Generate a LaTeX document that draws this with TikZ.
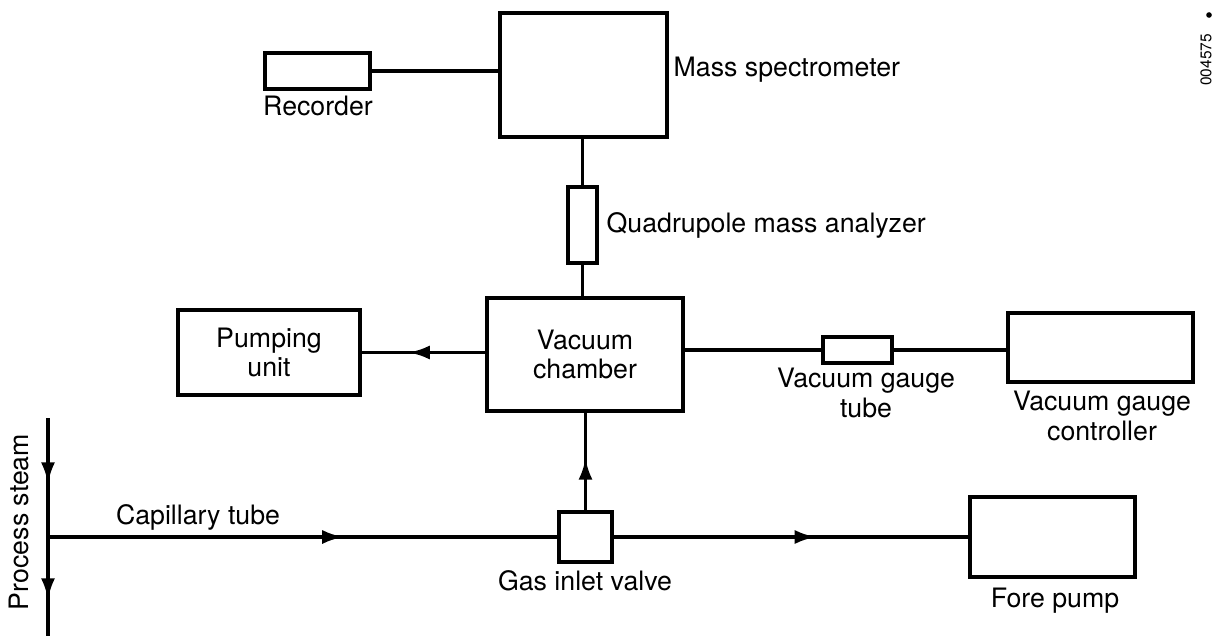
\documentclass[tikz,border=0pt]{standalone}
\usepackage{fontspec}
\setmainfont{TeX Gyre Heros}
\usetikzlibrary{arrows.meta, positioning, decorations.markings}

\begin{document}
\begin{tikzpicture}[
    x=0.025cm, y=-0.025cm,
    unit/.style={draw, line width=2.6pt, inner sep=0pt, align=center,
      font=\fontsize{19}{21}\selectfont},
    lbl/.style={align=center, inner sep=1pt, font=\fontsize{19}{21}\selectfont},
    pipe/.style={line width=2.4pt},
    flow/.style={line width=2.4pt, postaction={decorate},
      decoration={markings, mark=at position #1 with {\arrow{Latex[length=15pt, width=10pt]}}}}
]
\useasboundingbox (0,0) rectangle (1217,636);

% Units
\node[unit, minimum width=105*0.025cm, minimum height=36*0.025cm] (rec) at (317.5,71) {};
\node[unit, minimum width=167*0.025cm, minimum height=124*0.025cm] (ms) at (583.5,75) {};
\node[unit, minimum width=29*0.025cm, minimum height=76*0.025cm] (qma) at (582.5,225) {};
\node[unit, minimum width=196*0.025cm, minimum height=113*0.025cm] (vc) at (585,354.5) {Vacuum\\chamber};
\node[unit, minimum width=182*0.025cm, minimum height=85*0.025cm] (pu) at (269,352.5) {Pumping\\unit};
\node[unit, minimum width=69*0.025cm, minimum height=26*0.025cm] (vgt) at (857.5,350) {};
\node[unit, minimum width=185*0.025cm, minimum height=69*0.025cm] (vgc) at (1100.5,347.5) {};
\node[unit, minimum width=53*0.025cm, minimum height=50*0.025cm] (giv) at (585.5,537) {};
\node[unit, minimum width=165*0.025cm, minimum height=80*0.025cm] (fp) at (1052.5,537) {};

% Labels
\node[lbl] (reclbl) at (318,106) {Recorder};
\node[lbl, anchor=west] (mslbl) at (672,70) {Mass spectrometer};
\node[lbl, anchor=west] (qmalbl) at (605,225) {Quadrupole mass analyzer};
\node[lbl] (vgtlbl) at (866,393) {Vacuum gauge\\tube};
\node[lbl] (vgclbl) at (1102,416) {Vacuum gauge\\controller};
\node[lbl] (givlbl) at (585,581) {Gas inlet valve};
\node[lbl] (fplbl) at (1055,601) {Fore pump};
\node[lbl] (caplbl) at (198,517) {Capillary tube};
\node[lbl, rotate=90] (streamlbl) at (19,522) {Process steam};
\node[font=\fontsize{11}{13}\selectfont, rotate=90, inner sep=0pt] (fignum) at (1206,60) {004575};
\node[circle, fill, inner sep=0pt, minimum size=4pt] (dot) at (1209,15) {};

% Process stream
\coordinate (in) at (48,418);
\coordinate (out) at (48,636);
\coordinate (tap) at (48,537);
\draw[flow=0.55] (in) -- (tap);
\draw[flow=0.63] (tap) -- (out);

% Connections
\draw[pipe] (rec.east) -- (rec.east -| ms.west);
\draw[pipe] (qma.north) -- (qma.north |- ms.south);
\draw[pipe] (qma.south) -- (qma.south |- vc.north);
\draw[flow=0.62] (pu.east -| vc.west) -- (pu.east);
\draw[pipe] (vgt.west -| vc.east) -- (vgt.west);
\draw[pipe] (vgt.east) -- (vgt.east -| vgc.west);
\draw[flow=0.53] (giv.north) -- (giv.north |- vc.south);
\draw[flow=0.58] (tap) -- (giv.west);
\draw[flow=0.57] (giv.east) -- (fp.west);

\end{tikzpicture}
\end{document}
